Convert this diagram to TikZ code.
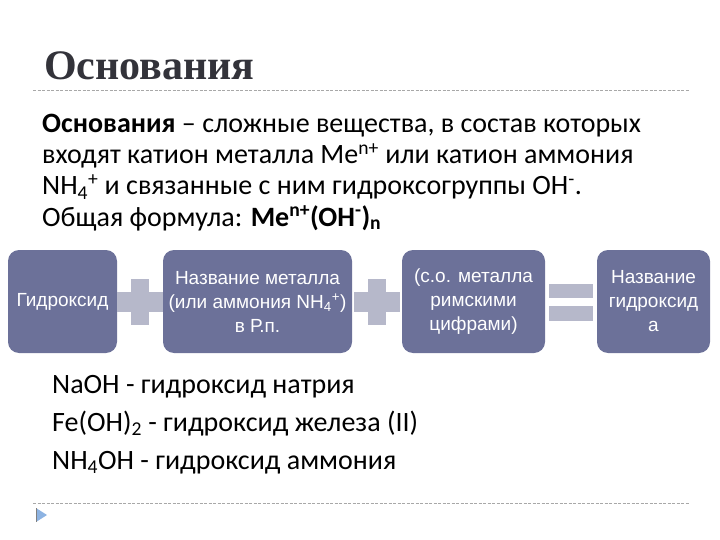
\documentclass[tikz,border=0pt]{standalone}
\usepackage{fontspec}
\setmainfont{Carlito}
\newfontfamily\titlefont{Liberation Serif}
\newfontfamily\boxfont{Liberation Sans}
\usetikzlibrary{positioning,calc}
\definecolor{boxblue}{HTML}{6C7199}
\definecolor{signgray}{HTML}{B6B8CA}
\definecolor{titlegray}{HTML}{33333A}
\definecolor{rulegray}{HTML}{A8A8A8}
\definecolor{bulletblue}{HTML}{8DB3E2}

\begin{document}
\begin{tikzpicture}[x=1pt,y=1pt,
    namebox/.style={fill=boxblue,rounded corners=11pt,text=white,
      font=\boxfont\fontsize{19}{24}\selectfont,align=center,
      inner sep=0pt,minimum height=103pt},
    sign/.style={fill=signgray},
    rule/.style={draw=rulegray,line width=0.8pt,dash pattern=on 3pt off 1.5pt},
    bodyline/.style={anchor=base west,inner sep=0pt,
      font=\fontsize{28}{31}\selectfont}]
  \useasboundingbox (0,0) rectangle (720,-540);

  % title and rules
  \node[anchor=base west,inner sep=0pt,text=titlegray,
    font=\titlefont\bfseries\fontsize{42}{44}\selectfont] (title) at (44,-80) {Основания};
  \draw[rule] (33,-90) -- (690,-90);
  \draw[rule] (33,-503) -- (690,-503);
  \fill[bulletblue] (36,-508) -- (47,-515) -- (36,-522) -- cycle;
  \draw[gray,line width=0.8pt] (36,-508) -- (36,-522);

  % definition
  \node[bodyline] (l1) at (42,-133) {\textbf{Основания} – сложные вещества, в состав которых};
  \node[bodyline] (l2) at (42,-164) {входят катион металла Me\textsuperscript{n+} или катион аммония};
  \node[bodyline] (l3) at (42,-195) {NH\textsubscript{4}\textsuperscript{+} и связанные с ним гидроксогруппы OH\textsuperscript{-}.};
  \node[bodyline] (l4) at (42,-226) {Общая формула: \textbf{Me\textsuperscript{n+}(OH\textsuperscript{-})\textsubscript{n}}};

  % naming scheme
  \node[namebox,minimum width=109pt] (gidr) at (62.5,-301.5) {Гидроксид};
  \node[namebox,minimum width=189pt] (metal) at (257.5,-301.5)
    {Название металла\\(или аммония NH\textsubscript{4}\textsuperscript{+})\\в Р.п.};
  \node[namebox,minimum width=143pt] (valence) at (473.5,-301.5)
    {(с.о. металла\\римскими\\цифрами)};
  \node[namebox,minimum width=113pt] (result) at (653.5,-301.5)
    {Название\\гидроксид\\а};

  \coordinate (p1) at ($(gidr.east)!0.5!(metal.west)$);
  \coordinate (p2) at ($(metal.east)!0.5!(valence.west)$);
  \coordinate (eq) at ($(valence.east)!0.5!(result.west)$);
  \foreach \c in {p1,p2}{
    \fill[sign] ($(\c)+(-23,-10)$) rectangle ($(\c)+(23,10)$);
    \fill[sign] ($(\c)+(-9,-23)$) rectangle ($(\c)+(9,23)$);
  }
  \fill[sign] ($(eq)+(-22,4)$) rectangle ($(eq)+(22,18)$);
  \fill[sign] ($(eq)+(-22,-4)$) rectangle ($(eq)+(22,-19)$);

  % examples
  \node[bodyline] (e1) at (52,-393) {NaOH - гидроксид натрия};
  \node[bodyline] (e2) at (52,-431) {Fe(OH)\textsubscript{2} - гидроксид железа (II)};
  \node[bodyline] (e3) at (52,-469) {NH\textsubscript{4}OH - гидроксид аммония};
\end{tikzpicture}
\end{document}
